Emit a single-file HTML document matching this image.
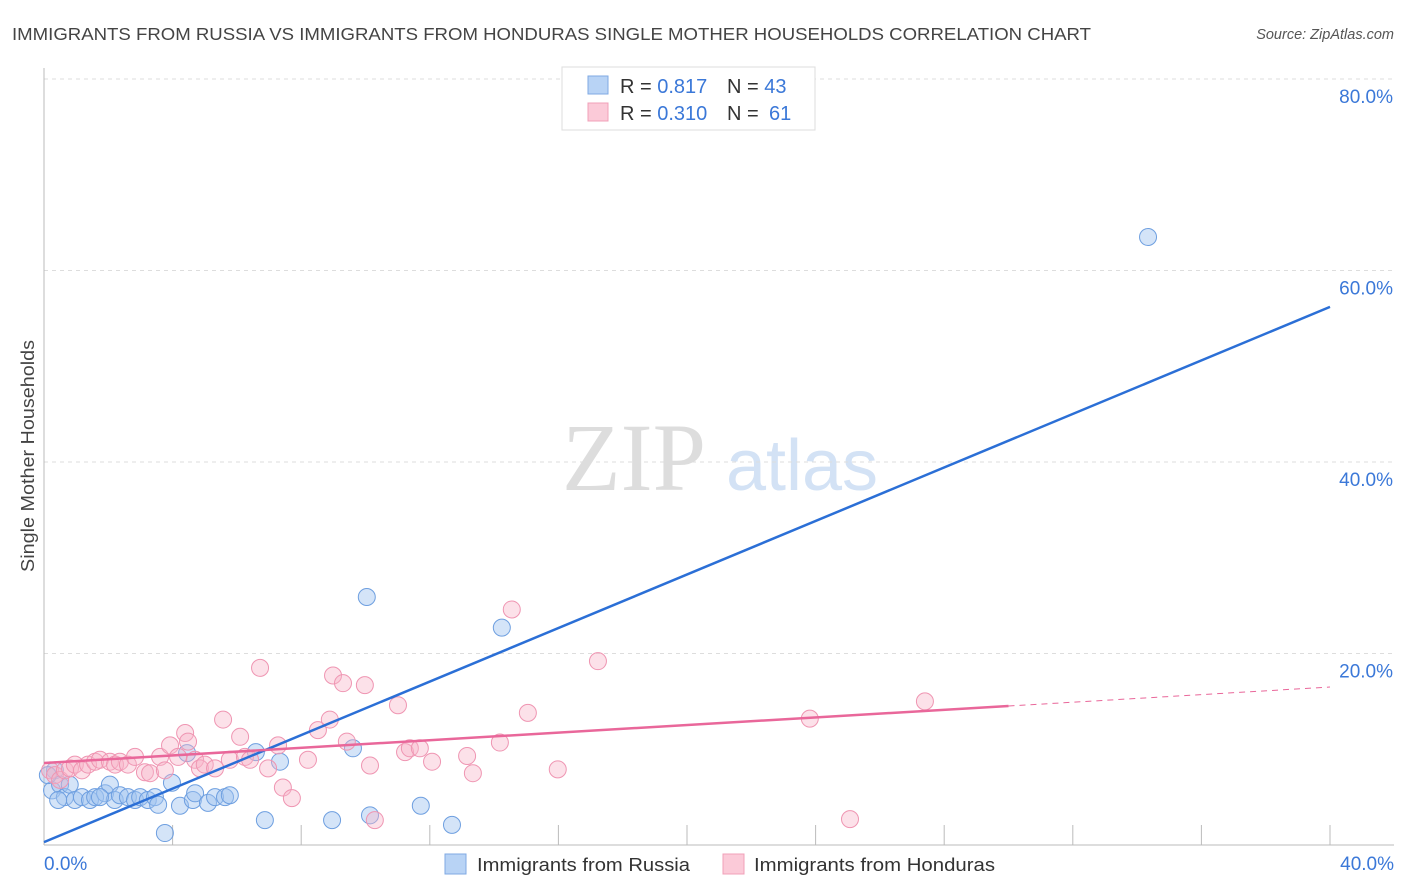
<!DOCTYPE html>
<html><head><meta charset="utf-8"><style>
body{margin:0;background:#fff;font-family:"Liberation Sans",sans-serif;}
#wrap{position:relative;width:1406px;height:892px;overflow:hidden}
</style></head><body>
<div id="wrap">
<svg id="svg" width="1406" height="892" xmlns="http://www.w3.org/2000/svg" font-family="Liberation Sans, sans-serif">
<text x="12" y="40" font-size="17.5" fill="#444" textLength="1079" lengthAdjust="spacingAndGlyphs">IMMIGRANTS FROM RUSSIA VS IMMIGRANTS FROM HONDURAS SINGLE MOTHER HOUSEHOLDS CORRELATION CHART</text>
<text x="1394" y="39" font-size="14.5" fill="#555" font-style="italic" text-anchor="end">Source: ZipAtlas.com</text>
<text x="34" y="456" font-size="18" fill="#444" text-anchor="middle" textLength="232" lengthAdjust="spacingAndGlyphs" transform="rotate(-90 34 456)">Single Mother Households</text>
<text x="634" y="490" font-size="96" fill="#ddd" font-family="Liberation Serif, serif" text-anchor="middle">ZIP</text>
<text x="802" y="490" font-size="72" fill="#d3e2f5" text-anchor="middle">atlas</text>
<g id="grid"></g><g id="axes"></g><g id="pts"></g><g id="lines"></g>
<g>
<rect x="562" y="67" width="253" height="63" fill="#fff" stroke="#ddd"/>
<rect x="588" y="76" width="20" height="18" fill="#b8d3f5" stroke="#7fa9e3"/>
<rect x="588" y="103" width="20" height="18" fill="#fbcad8" stroke="#f0a0b8"/>
<text x="620" y="93" font-size="20" fill="#333">R = <tspan fill="#3b78d8">0.817</tspan><tspan x="727">N = </tspan><tspan fill="#3b78d8">43</tspan></text>
<text x="620" y="120" font-size="20" fill="#333">R = <tspan fill="#3b78d8">0.310</tspan><tspan x="727">N = </tspan><tspan fill="#3b78d8" x="769">61</tspan></text>
</g>
<g>
<rect x="445" y="854" width="21" height="20" fill="#b8d3f5" stroke="#7fa9e3"/>
<text x="477" y="871" font-size="18.5" fill="#333" textLength="213" lengthAdjust="spacingAndGlyphs">Immigrants from Russia</text>
<rect x="723" y="854" width="21" height="20" fill="#fbcad8" stroke="#f0a0b8"/>
<text x="754" y="871" font-size="18.5" fill="#333" textLength="241" lengthAdjust="spacingAndGlyphs">Immigrants from Honduras</text>
</g>
</svg>
</div>
<script>
const russiaX=[0.25,0.34,0.5,0.65,0.8,0.96,1.18,1.43,1.59,1.9,2.05,2.2,2.36,2.61,2.83,2.99,3.23,3.45,3.55,3.76,3.98,4.23,4.45,4.63,4.7,5.1,5.32,5.63,5.78,6.59,6.87,7.34,8.96,9.61,10.04,10.14,11.72,12.69,14.24,34.34,0.12,0.44,1.74];
const russiaY=[5.7,7.8,6.3,5.0,6.3,4.7,5.0,4.7,5.0,5.4,6.3,4.7,5.2,5.0,4.7,5.0,4.7,5.0,4.2,1.25,6.5,4.1,9.6,4.7,5.4,4.4,5.0,5.0,5.2,9.7,2.6,8.7,2.6,10.1,25.9,3.1,4.1,2.1,22.7,63.5,7.3,4.7,5.0];
const hondurasX=[0.19,0.34,0.5,0.65,0.81,0.96,1.18,1.37,1.59,1.74,2.05,2.21,2.36,2.61,2.83,3.14,3.3,3.61,3.76,3.92,4.17,4.39,4.48,4.7,4.85,5.0,5.32,5.57,5.78,6.1,6.25,6.41,6.72,6.97,7.28,7.43,7.71,8.21,8.52,8.89,8.99,9.3,9.42,9.98,10.14,10.29,11.01,11.23,11.38,11.69,12.07,13.16,13.34,14.18,14.55,15.05,15.98,17.23,23.82,25.07,27.4];
const hondurasY=[7.8,7.3,6.8,7.8,8.0,8.4,7.8,8.4,8.7,8.9,8.7,8.4,8.7,8.4,9.2,7.6,7.5,9.2,7.8,10.4,9.2,11.7,10.8,8.9,8.0,8.4,8.0,13.1,8.9,11.3,9.2,8.9,18.5,8.0,10.4,6.0,4.9,8.9,12.0,13.1,17.7,16.9,10.8,16.7,8.3,2.6,14.6,9.7,10.1,10.1,8.7,9.3,7.5,10.7,24.6,13.8,7.9,19.2,13.2,2.7,15.0];
const yTicks=[20,40,60,80];
const xTickLabels=["0.0%","40.0%"];
const russiaTrend=[0.3,56.2];
const hondurasTrend=[8.56,16.5];
const hondurasSolidEnd=30;

const NS="http://www.w3.org/2000/svg";
const X=v=>44+v/40*1286, Y=v=>845-v*9.575;
function mk(t,a,p){const e=document.createElementNS(NS,t);for(const k in a)e.setAttribute(k,a[k]);p.appendChild(e);return e;}
const grid=document.getElementById('grid'),axes=document.getElementById('axes'),pts=document.getElementById('pts'),lines=document.getElementById('lines');
yTicks.forEach(t=>{
 const l=mk('line',{x1:44,x2:1394,y1:Y(t),y2:Y(t),stroke:'#ddd','stroke-dasharray':'4,4'},grid);
 
 
 const tx=mk('text',{x:1393,y:Y(t)+24,'font-size':19,fill:'#3b78d8','text-anchor':'end'},grid);
 tx.textContent=t.toFixed(1)+'%';
 
 
});
const ax=mk('line',{x1:44,x2:44,y1:68,y2:845,stroke:'#bbb'},axes);


const bx=mk('line',{x1:44,x2:1394,y1:845,y2:845,stroke:'#bbb'},axes);


for(let i=1;i<=10;i++){
 const t=mk('line',{x1:X(i*4),x2:X(i*4),y1:825,y2:845,stroke:'#bbb'},axes);
 
 
}
[[0,"start",44],[40,"end",1394]].forEach((d,i)=>{
 const t=mk('text',{x:d[2],y:870,'font-size':19,fill:'#3b78d8','text-anchor':d[1]},axes);
 t.textContent=xTickLabels[i];
 
 
});
russiaX.forEach((x,i)=>{
 const c=mk('circle',{cx:X(x),cy:Y(russiaY[i]),r:8.5,fill:'rgba(160,196,240,0.45)',stroke:'#6e9fe0','stroke-width':1},pts);
 
 
});
hondurasX.forEach((x,i)=>{
 const c=mk('circle',{cx:X(x),cy:Y(hondurasY[i]),r:8.5,fill:'rgba(248,180,200,0.4)',stroke:'#ef95b2','stroke-width':1},pts);
 
 
});
const rl=mk('line',{x1:X(0),y1:Y(russiaTrend[0]),x2:X(40),y2:Y(russiaTrend[1]),stroke:'#2b6fd6','stroke-width':2.5},lines);


const hy=x=>hondurasTrend[0]+(hondurasTrend[1]-hondurasTrend[0])*x/40;
const hl=mk('line',{x1:X(0),y1:Y(hy(0)),x2:X(hondurasSolidEnd),y2:Y(hy(hondurasSolidEnd)),stroke:'#e9679a','stroke-width':2.5},lines);


const hd=mk('line',{x1:X(hondurasSolidEnd),y1:Y(hy(hondurasSolidEnd)),x2:X(40),y2:Y(hy(40)),stroke:'#e9679a','stroke-width':1,'stroke-dasharray':'6,5'},lines);


</script>
</body></html>
